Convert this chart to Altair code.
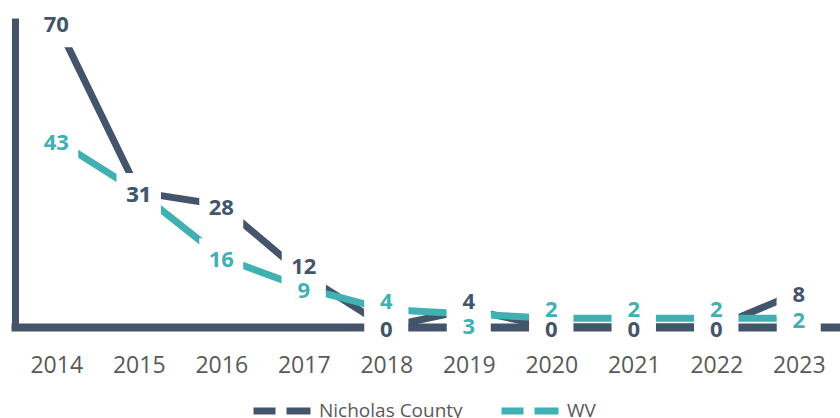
import altair as alt
import pandas as pd

years = ["2014", "2015", "2016", "2017", "2018", "2019", "2020", "2021", "2022", "2023"]
nicholas = [70, 31, 28, 12, 0, 4, 0, 0, 0, 8]
wv = [43, 31, 16, 9, 4, 3, 2, 2, 2, 2]
series_names = ["Nicholas County", "WV"]
series_colors = ["#44546A", "#41B0B3"]

# label placement options (c = centre, t = above, b = below), like per-label settings
nicholas_label_pos = ["c", "c", "c", "t", "c", "t", "c", "c", "c", "c"]
wv_label_pos = ["c", "c", "c", "c", "t", "b", "t", "t", "t", "c"]

rows = []
for name, vals, pos in [(series_names[0], nicholas, nicholas_label_pos),
                        (series_names[1], wv, wv_label_pos)]:
    for y, v, p in zip(years, vals, pos):
        rows.append({"year": y, "series": name, "value": v, "place": p})
df = pd.DataFrame(rows)

FONT = "Open Sans"
color_scale = alt.Scale(domain=series_names, range=series_colors)
x_enc = alt.X("year:O", sort=years,
              scale=alt.Scale(paddingInner=0, paddingOuter=0),
              axis=alt.Axis(title=None, ticks=False, tickSize=0, labelAngle=0,
                            labelFont=FONT, labelFontSize=23, labelColor="#595959",
                            labelPadding=27, domainColor="#44546A", domainWidth=8,
                            domainCap="square", grid=False))
y_enc = alt.Y("value:Q", scale=alt.Scale(domain=[0, 71], nice=False),
              axis=alt.Axis(title=None, labels=False, ticks=False, grid=False,
                            domainColor="#44546A", domainWidth=7))

base = alt.Chart(df)

lines = base.mark_line(strokeWidth=7, strokeCap="butt", strokeJoin="miter").encode(
    x=x_enc, y=y_enc,
    color=alt.Color("series:N", scale=color_scale,
                    legend=alt.Legend(orient="none", legendX=235, legendY=361,
                                      direction="horizontal", title=None,
                                      symbolType="stroke", symbolStrokeWidth=7,
                                      symbolDash=[22, 11, 24, 11], symbolSize=3249,
                                      labelFont=FONT, labelFontSize=19,
                                      labelColor="#595959", labelOffset=5,
                                      columnPadding=24, padding=0)),
    detail="series:N",
)

offsets = {"c": 3, "t": -8, "b": 13}

box_layers = []
text_layers = []
for p, off in offsets.items():
    box_layers.append(
        base.transform_filter(alt.datum.place == p)
        .mark_square(size=1936, color="white", opacity=1, yOffset=off)
        .encode(x=alt.X("year:O", sort=years), y="value:Q")
    )
for name in ["WV", "Nicholas County"]:
    for p, off in offsets.items():
        text_layers.append(
            base.transform_filter((alt.datum.place == p) & (alt.datum.series == name))
            .mark_text(font=FONT, fontSize=22, fontWeight="bold", yOffset=off,
                       baseline="middle", align="center")
            .encode(x=alt.X("year:O", sort=years), y="value:Q", text="value:Q",
                    color=alt.Color("series:N", scale=color_scale, legend=None))
        )

chart = alt.layer(lines, *box_layers, *text_layers).properties(
    width=825, height=309,
    padding={"left": 15, "top": 18, "right": 0, "bottom": 91},
    autosize=alt.AutoSizeParams(type="none"),
    view=alt.ViewBackground(stroke="transparent", strokeWidth=0),
).configure_view(
    strokeWidth=0, strokeOpacity=0, stroke="transparent"
).configure_axis(grid=False).configure(background="white")

chart.save("out.html", embed_options={"renderer": "svg", "actions": False})
